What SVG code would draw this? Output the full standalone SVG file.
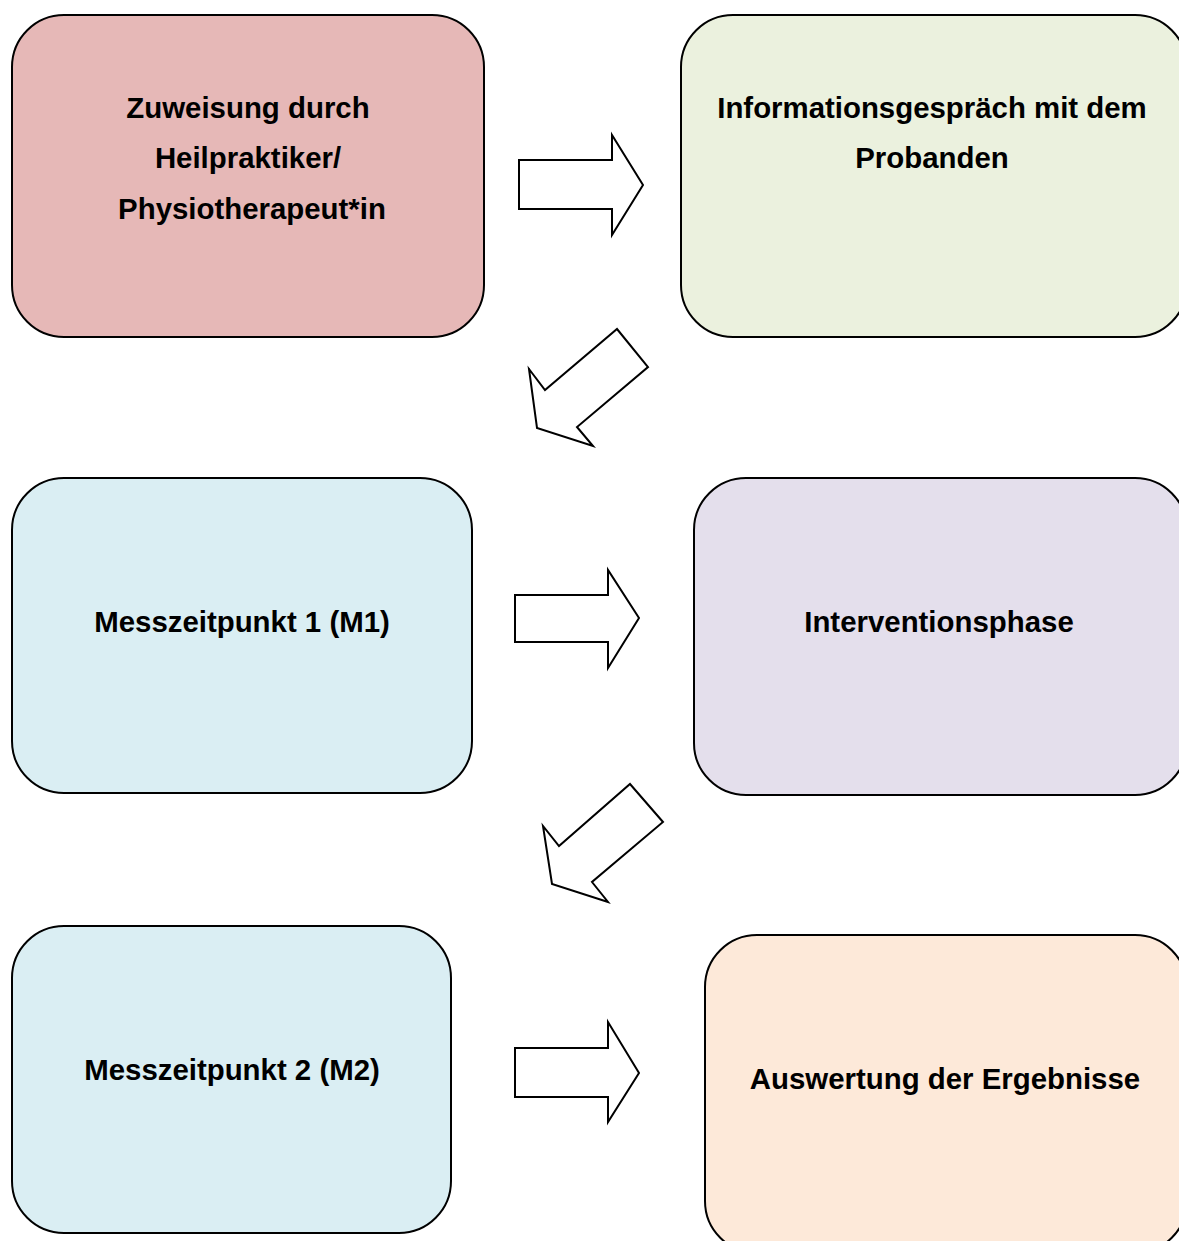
<svg xmlns="http://www.w3.org/2000/svg" width="1179" height="1241" viewBox="0 0 1179 1241">
<style>
.box{stroke:#000;stroke-width:2}
.arr{fill:#fff;stroke:#000;stroke-width:2;stroke-linejoin:miter}
text{font-family:"Liberation Sans",Arial,sans-serif;font-weight:bold;font-size:29.4px;fill:#000;text-anchor:middle}
</style>
<rect width="1179" height="1241" fill="#fff"/>
<g id="n1"><rect class="box" x="12" y="15" width="472" height="322" rx="52" fill="#E6B8B7"/>
<text x="248" y="118">Zuweisung durch</text><text x="248" y="168">Heilpraktiker/</text><text x="252" y="219">Physiotherapeut*in</text></g>
<g id="n2"><rect class="box" x="681" y="15" width="506" height="322" rx="52" fill="#EBF1DE"/>
<text x="932" y="118">Informationsgespräch mit dem</text><text x="932" y="168">Probanden</text></g>
<g id="n3"><rect class="box" x="12" y="478" width="460" height="315" rx="52" fill="#DAEEF3"/>
<text x="242" y="632">Messzeitpunkt 1 (M1)</text></g>
<g id="n4"><rect class="box" x="694" y="478" width="493" height="317" rx="52" fill="#E4DFEC"/>
<text x="939" y="632">Interventionsphase</text></g>
<g id="n5"><rect class="box" x="12" y="926" width="439" height="307" rx="52" fill="#DAEEF3"/>
<text x="232" y="1080">Messzeitpunkt 2 (M2)</text></g>
<g id="n6"><rect class="box" x="705" y="935" width="482" height="318" rx="52" fill="#FDE9D9"/>
<text x="945" y="1089">Auswertung der Ergebnisse</text></g>
<g id="connectors">
<polygon class="arr" points="519,160 612,160 612,135 643,185 612,235 612,209 519,209"/>
<polygon class="arr" points="617,329 648,367 577,427 593,446 537,428 529,369 545,390"/>
<polygon class="arr" points="515,595 608,595 608,570 639,618 608,668 608,642 515,642"/>
<polygon class="arr" points="630,784 663,822 592,882 608,902 552,884 543,826 559,846"/>
<polygon class="arr" points="515,1048 608,1048 608,1022 639,1073 608,1122 608,1097 515,1097"/>
</g>
</svg>
